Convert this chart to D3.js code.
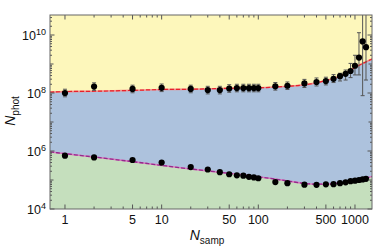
<!DOCTYPE html>
<html>
<head>
<meta charset="utf-8">
<script src="https://cdn.jsdelivr.net/npm/d3@7"></script>
<style>
  body { margin: 0; background: #fff; }
  text { font-family: "Liberation Sans", Arial, sans-serif; fill: #111; }
</style>
</head>
<body>
<div id="chart"></div>
<script>
// sample counts
const nSamp = [1, 2, 5, 10, 20, 30, 40, 50, 60, 70, 80, 90, 100, 150, 200, 300, 400, 500, 600, 700, 800, 900, 1000, 1100, 1200, 1300];

// upper series with error bar ends
const upperVal = [1.0e8, 1.66e8, 1.38e8, 1.51e8, 1.38e8, 1.26e8, 1.26e8, 1.43e8, 1.48e8, 1.48e8, 1.48e8, 1.48e8, 1.48e8, 1.70e8, 1.78e8, 2.14e8, 2.40e8, 2.57e8, 3.09e8, 3.80e8, 4.57e8, 5.75e8, 8.7e8, 1.66e9, 6.0e9, 3.8e9];
const upperLo = [0.74e8, 1.23e8, 1.02e8, 1.12e8, 1.02e8, 0.93e8, 0.93e8, 1.06e8, 1.10e8, 1.10e8, 1.10e8, 1.10e8, 1.10e8, 1.26e8, 1.32e8, 1.55e8, 1.75e8, 1.9e8, 2.3e8, 2.6e8, 2.8e8, 3.4e8, 4.2e8, 4.2e8, 8.1e7, 2.8e8];
const upperHi = [1.35e8, 2.24e8, 1.86e8, 2.04e8, 1.86e8, 1.70e8, 1.70e8, 1.93e8, 2.0e8, 2.0e8, 2.0e8, 2.0e8, 2.0e8, 2.3e8, 2.4e8, 2.95e8, 3.3e8, 3.5e8, 4.3e8, 4.8e8, 6.2e8, 1.05e9, 2.0e9, 1.2e10, 5e11, 5e11];

// lower series
const lowerVal = [6.9e5, 6.0e5, 4.9e5, 4.0e5, 2.8e5, 2.3e5, 1.86e5, 1.58e5, 1.45e5, 1.41e5, 1.29e5, 1.23e5, 1.15e5, 8.5e4, 7.8e4, 6.9e4, 6.8e4, 7.1e4, 7.2e4, 7.8e4, 8.3e4, 9.1e4, 9.5e4, 1.0e5, 1.05e5, 1.10e5];

// region boundaries
const boundN = [0.7, 1, 2, 5, 10, 20, 50, 100, 200, 300, 400, 500, 700, 1000, 1500];
const boundUpper = [1.07e8, 1.12e8, 1.15e8, 1.23e8, 1.32e8, 1.35e8, 1.45e8, 1.51e8, 1.70e8, 1.91e8, 2.24e8, 2.69e8, 3.80e8, 7.6e8, 1.48e9];
const boundLower = [9.3e5, 8.1e5, 6.2e5, 4.3e5, 3.2e5, 2.4e5, 1.7e5, 1.29e5, 9.3e4, 7.6e4, 7.2e4, 7.2e4, 7.9e4, 9.3e4, 1.32e5];

const xTickMajor = [1, 5, 10, 50, 100, 500, 1000];
const yTickMajor = [1e4, 1e6, 1e8, 1e10];

const W = 374, H = 246;
const margin = { top: 15, right: 2, bottom: 37, left: 50 };

const svg = d3.select("#chart").append("svg")
  .attr("width", W).attr("height", H);

const x = d3.scaleLog().domain([0.7, 1500]).range([margin.left, W - margin.right]);
const y = d3.scaleLog().domain([1e4, 10 ** 10.69]).range([H - margin.bottom, margin.top]);

svg.append("clipPath").attr("id", "clip")
  .append("rect")
  .attr("x", margin.left).attr("y", margin.top)
  .attr("width", x.range()[1] - margin.left)
  .attr("height", y.range()[0] - margin.top);

const plot = svg.append("g").attr("clip-path", "url(#clip)");

const bound = boundN.map((n, i) => ({ n, up: boundUpper[i], lo: boundLower[i] }));

// yellow background
plot.append("rect")
  .attr("x", margin.left).attr("y", margin.top)
  .attr("width", x.range()[1] - margin.left)
  .attr("height", y.range()[0] - margin.top)
  .attr("fill", "#fdf7bb");

plot.append("path")
  .datum(bound)
  .attr("fill", "#adc2dd")
  .attr("d", d3.area().curve(d3.curveMonotoneX)
    .x(d => x(d.n)).y0(d => y(d.lo)).y1(d => y(d.up)));

plot.append("path")
  .datum(bound)
  .attr("fill", "#c5dfbd")
  .attr("d", d3.area().curve(d3.curveMonotoneX)
    .x(d => x(d.n)).y0(y.range()[0] + 5).y1(d => y(d.lo)));

const upLine = d3.line().curve(d3.curveMonotoneX).x(d => x(d.n)).y(d => y(d.up));
const loLine = d3.line().curve(d3.curveMonotoneX).x(d => x(d.n)).y(d => y(d.lo));

plot.append("path").datum(bound).attr("d", upLine)
  .attr("fill", "none").attr("stroke", "#f08a8a").attr("stroke-width", 1.6);
plot.append("path").datum(bound).attr("d", upLine)
  .attr("fill", "none").attr("stroke", "#e8202a").attr("stroke-width", 1.2)
  .attr("stroke-dasharray", "4,2");

plot.append("path").datum(bound).attr("d", loLine)
  .attr("fill", "none").attr("stroke", "#d77bbf").attr("stroke-width", 1.6);
plot.append("path").datum(bound).attr("d", loLine)
  .attr("fill", "none").attr("stroke", "#952a8c").attr("stroke-width", 1.3)
  .attr("stroke-dasharray", "4,2");

// error bars
const upper = nSamp.map((n, i) => ({ n, v: upperVal[i], lo: upperLo[i], hi: upperHi[i] }));
const eb = plot.selectAll(".eb").data(upper).join("g").attr("class", "eb")
  .attr("stroke", "#555").attr("stroke-width", 1);
eb.append("line")
  .attr("x1", d => x(d.n)).attr("x2", d => x(d.n))
  .attr("y1", d => y(d.lo)).attr("y2", d => y(d.hi));
eb.append("line")
  .attr("x1", d => x(d.n) - 2).attr("x2", d => x(d.n) + 2)
  .attr("y1", d => y(d.lo)).attr("y2", d => y(d.lo));
eb.append("line")
  .attr("x1", d => x(d.n) - 2).attr("x2", d => x(d.n) + 2)
  .attr("y1", d => y(d.hi)).attr("y2", d => y(d.hi));

plot.selectAll(".pu").data(upper).join("circle").attr("class", "pu")
  .attr("cx", d => x(d.n)).attr("cy", d => y(d.v)).attr("r", 3.1).attr("fill", "#000");

plot.selectAll(".pl").data(nSamp).join("circle").attr("class", "pl")
  .attr("cx", d => x(d)).attr("cy", (d, i) => y(lowerVal[i])).attr("r", 3.1).attr("fill", "#000");

// frame and ticks
const x0 = margin.left, x1 = x.range()[1], yb = y.range()[0], yt = margin.top;
const axisG = svg.append("g").attr("stroke", "#555").attr("stroke-width", 1);

const xMinor = [];
[1, 10, 100, 1000].forEach(d => { for (let k = 1; k <= 9; k++) { const v = d * k; if (v <= 1500 && !xTickMajor.includes(v)) xMinor.push(v); } });
xTickMajor.forEach(v => {
  axisG.append("line").attr("x1", x(v)).attr("x2", x(v)).attr("y1", yb).attr("y2", yb - 4.5);
  axisG.append("line").attr("x1", x(v)).attr("x2", x(v)).attr("y1", yt).attr("y2", yt + 4.5);
});
xMinor.forEach(v => {
  axisG.append("line").attr("x1", x(v)).attr("x2", x(v)).attr("y1", yb).attr("y2", yb - 2.5);
  axisG.append("line").attr("x1", x(v)).attr("x2", x(v)).attr("y1", yt).attr("y2", yt + 2.5);
});

const yMinor = [];
for (let e = 4; e <= 10; e++) for (let k = 1; k <= 9; k++) {
  const v = k * 10 ** e;
  if (v < 10 ** 10.69 && !yTickMajor.includes(v)) yMinor.push({ v, len: k === 1 ? 3.5 : 2 });
}
yTickMajor.forEach(v => {
  axisG.append("line").attr("x1", x0).attr("x2", x0 + 4.5).attr("y1", y(v)).attr("y2", y(v));
  axisG.append("line").attr("x1", x1).attr("x2", x1 - 4.5).attr("y1", y(v)).attr("y2", y(v));
});
yMinor.forEach(t => {
  axisG.append("line").attr("x1", x0).attr("x2", x0 + t.len).attr("y1", y(t.v)).attr("y2", y(t.v));
  axisG.append("line").attr("x1", x1).attr("x2", x1 - t.len).attr("y1", y(t.v)).attr("y2", y(t.v));
});

svg.append("rect")
  .attr("x", x0).attr("y", yt).attr("width", x1 - x0).attr("height", yb - yt)
  .attr("fill", "none").attr("stroke", "#666").attr("stroke-width", 1);

// tick labels
svg.selectAll(".xl").data(xTickMajor).join("text").attr("class", "xl")
  .attr("x", d => x(d)).attr("y", yb + 15)
  .attr("text-anchor", "middle").attr("font-size", 12.5)
  .text(d => d);

const yl = svg.selectAll(".yl").data(yTickMajor).join("text").attr("class", "yl")
  .attr("x", x0 - 4).attr("y", d => y(d) + 4.5)
  .attr("text-anchor", "end").attr("font-size", 12.5);
yl.append("tspan").text("10");
yl.append("tspan").attr("dy", -5).attr("font-size", 9).text(d => Math.round(Math.log10(d)));

// axis titles
const xt = svg.append("text").attr("x", 207).attr("y", 240).attr("text-anchor", "middle").attr("font-size", 14);
xt.append("tspan").attr("font-style", "italic").text("N");
xt.append("tspan").attr("dy", 4).attr("font-size", 10).text("samp");

const ytl = svg.append("text").attr("transform", "translate(15,111) rotate(-90)")
  .attr("text-anchor", "middle").attr("font-size", 14);
ytl.append("tspan").attr("font-style", "italic").text("N");
ytl.append("tspan").attr("dy", 4).attr("font-size", 10).text("phot");
</script>
</body>
</html>
